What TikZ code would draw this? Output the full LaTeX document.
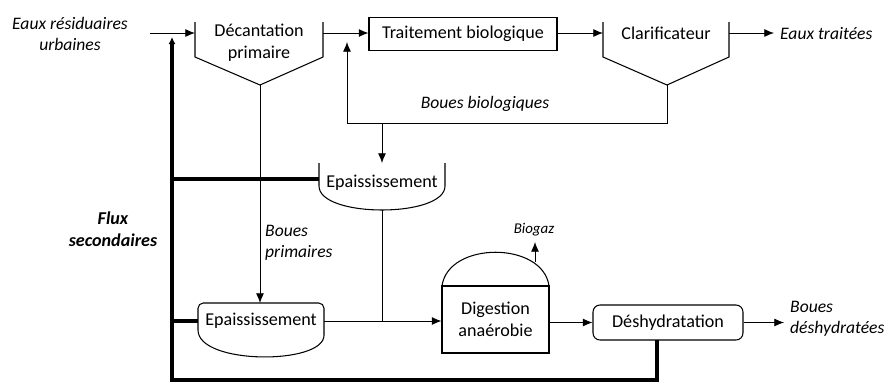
\documentclass[tikz,border=0pt]{standalone}
\usepackage{fontspec}
\setmainfont{Carlito}
\usepackage{tikz}
\usetikzlibrary{arrows,arrows.meta,positioning,calc}
\tikzstyle{process} = [rectangle, minimum width=3.76cm, minimum height=0.66cm, text centered, draw=black, line width=0.6pt]
\tikzstyle{digest} = [rectangle, minimum width=2.14cm, minimum height=1.34cm, text centered, align=center, draw=black, line width=0.6pt]
\tikzstyle{dryer} = [rectangle, rounded corners=4pt, minimum width=3.0cm, minimum height=0.7cm, text centered, draw=black, line width=0.6pt]
\tikzstyle{tank} = [line width=0.6pt]
\tikzstyle{label} = [font=\itshape, align=center]
\tikzstyle{arrow} = [line width=0.45pt,->,>={Latex[length=5.5pt,width=4.5pt]}]
\tikzstyle{line} = [line width=0.45pt]
\tikzstyle{flux} = [line width=1.8pt]

\begin{document}
\begin{tikzpicture}[x=0.02cm, y=-0.02cm, font=\fontsize{10.3}{12.5}\selectfont]
				\useasboundingbox (0,0) rectangle (896,383);
				% tanks drawn by hand
				\draw [tank] (195,22) -- (195,57) -- (260,85) -- (323,57) -- (323,22);
				\draw [tank] (603,22) -- (603,57) -- (667,85) -- (729,57) -- (729,22);
				\draw [tank] (319,163) -- (319,186) .. controls (319,218) and (445,218) .. (445,186) -- (445,163);
				\draw [tank] (198,330) [rounded corners=3pt]-- (198,303) -- (324,303) -- (324,330) [sharp corners]
					.. controls (324,365) and (198,365) .. (198,330);
				\draw [tank] (442,286) .. controls (448,241) and (543,241) .. (549,286);

				\node (eru) [label] at (70,34) {Eaux résiduaires\\urbaines};
				\node (dec) [align=center] at (259,43) {Décantation\\primaire};
				\node (trait) [process] at (463,34) {Traitement biologique};
				\node (clar) at (666,33) {Clarificateur};
				\node (traitees) [label, anchor=west] at (774,34) {Eaux traitées};
				\node (bbio) [label] at (485,104) {Boues biologiques};
				\node (epa1) at (382,183) {Epaississement};
				\node (bprim) [label, align=left, anchor=west] at (259,243) {Boues\\primaires};
				\node (epa2) at (261,321) {Epaississement};
				\node (dig) [digest] at (495.5,319.5) {Digestion\\anaérobie};
				\node (biogaz) [label, font=\fontsize{8.5}{10}\selectfont\itshape] at (534,230) {Biogaz};
				\node (desh) [dryer] at (668,322.5) {Déshydratation};
				\node (bdesh) [label, align=left, anchor=west] at (784,319) {Boues\\déshydratées};
				\node (flux) [label, font=\fontsize{10.3}{12.5}\selectfont\bfseries\itshape] at (113,229) {Flux\\secondaires};

				\coordinate (in) at (150,33);
				\coordinate (decL) at (195,33);
				\coordinate (decR) at (323,33);
				\coordinate (decB) at (260,85);
				\coordinate (clarL) at (603,33);
				\coordinate (clarR) at (729,33);
				\coordinate (clarB) at (667,85);
				\coordinate (ret) at (347,123);
				\coordinate (retTop) at (347,42);
				\coordinate (epa1T) at (382,163);
				\coordinate (epa1B) at (382,210);
				\coordinate (epa1L) at (319,179);
				\coordinate (epa2T) at (260,303);
				\coordinate (epa2L) at (198,321);
				\coordinate (epa2R) at (324,321);
				\coordinate (gasA) at (535,262);
				\coordinate (gasB) at (535,242);
				\coordinate (fluxD) at (657,340);
				\coordinate (fluxC) at (172,380);
				\coordinate (fluxTop) at (172,37);

				\draw [arrow] (in) -- (decL);
				\draw [arrow] (decR) -- (decR -| trait.west);
				\draw [arrow] (trait.east |- clarL) -- (clarL);
				\draw [arrow] (clarR) -- (clarR -| traitees.west);
				\draw [arrow] (clarB) |- (ret) -- (retTop);
				\draw [arrow] (epa1T |- ret) -- (epa1T);
				\draw [arrow] (decB) -- (epa2T);
				\draw [line] (epa1B) -- (epa1B |- epa2R);
				\draw [arrow] (epa2R) -- (epa2R -| dig.west);
				\draw [arrow] (dig.east |- desh) -- (desh.west);
				\draw [arrow] (desh.east) -- (desh.east -| bdesh.west);
				\draw [arrow] (gasA) -- (gasB);
				\draw [flux, -{Latex[length=4pt,width=4pt]}] (fluxD) |- (fluxC) -- (fluxTop);
				\draw [flux] (epa1L) -- (epa1L -| fluxC);
				\draw [flux] (epa2L) -- (epa2L -| fluxC);
			\end{tikzpicture}
\end{document}
